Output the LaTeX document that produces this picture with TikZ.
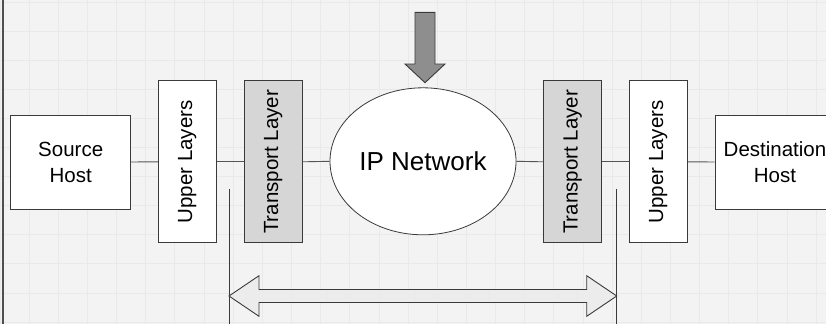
\documentclass[tikz,border=0pt]{standalone}
\usepackage{fontspec}
\setmainfont{Liberation Sans}
\usetikzlibrary{shapes.geometric,calc}
\definecolor{bgcol}{HTML}{F3F3F3}
\definecolor{gridcol}{HTML}{E9E9E9}
\definecolor{edgecol}{HTML}{3A3A3A}
\definecolor{linkcol}{HTML}{555555}
\definecolor{layercol}{HTML}{D6D6D6}
\definecolor{pushcol}{HTML}{8E8E8E}
\definecolor{spancol}{HTML}{ECECEC}
\tikzset{
  hostbox/.style={draw=edgecol, line width=0.9pt, fill=white, minimum width=120pt, minimum height=94pt, inner sep=0pt, align=center, font=\fontsize{20.5}{26}\selectfont},
  layerbox/.style={draw=edgecol, line width=0.9pt, fill=white, minimum width=58pt, minimum height=162pt, inner sep=0pt, font=\fontsize{20.5}{24}\selectfont},
  transbox/.style={layerbox, fill=layercol},
  netcloud/.style={ellipse, draw=edgecol, line width=0.8pt, fill=white, minimum width=186pt, minimum height=147pt, inner sep=0pt, font=\fontsize{26}{30}\selectfont},
  link/.style={draw=linkcol, line width=0.9pt},
  guide/.style={draw=edgecol, line width=0.9pt}
}
\begin{document}
\begin{tikzpicture}[x=1pt, y=-1pt]
\useasboundingbox (0,0) rectangle (826,324);
\clip (0,0) rectangle (826,324);
% canvas and grid
\fill[bgcol] (0,0) rectangle (826,324);
\foreach \gx in {0,...,28} {
  \draw[gridcol, line width=0.9pt] ({29.15*\gx},0) -- ({29.15*\gx},324);
}
\foreach \gy in {0,...,11} {
  \draw[gridcol, line width=0.9pt] (0,{2+29.1*\gy}) -- (826,{2+29.1*\gy});
}
\draw[edgecol!90, line width=2pt] (3.3,0) -- (3.3,324);

% end hosts and protocol layers
\node[hostbox] (src) at (70.7,162) {Source\\Host};
\node[layerbox] (up1) at (187.3,161.8) {\rotatebox{90}{Upper Layers}};
\node[transbox] (tr1) at (273.3,161.8) {\rotatebox{90}{Transport Layer}};
\node[netcloud] (ip) at (423,161.3) {IP Network};
\node[transbox] (tr2) at (572.7,161.8) {\rotatebox{90}{Transport Layer}};
\node[layerbox] (up2) at (658.3,161.8) {\rotatebox{90}{Upper Layers}};
\node[hostbox] (dst) at (775,162) {Destination\\Host};

% links along the path
\draw[link] (src.east) -- (up1.west);
\draw[link] (up1.east) -- (tr1.west);
\draw[link] (tr1.east) -- (ip.west);
\draw[link] (ip.east) -- (tr2.west);
\draw[link] (tr2.east) -- (up2.west);
\draw[link] (up2.east) -- (dst.west);

% guides marking the end-to-end span
\coordinate (gl) at (229,189.3);
\coordinate (gr) at (616.7,189.3);
\coordinate (gl2) at (229,324);
\coordinate (gr2) at (616.7,324);
\draw[guide] (gl) -- (gl2);
\draw[guide] (gr) -- (gr2);

% end-to-end double arrow
\coordinate (al) at (229,296);
\coordinate (ar) at (616.7,296);
\draw[edgecol, line width=0.9pt, fill=spancol, line join=miter]
  (al) -- ($(al)+(30,-20.3)$) -- ($(al)+(30,-6.5)$) -- ($(ar)+(-30,-6.5)$)
  -- ($(ar)+(-30,-20.3)$) -- (ar) -- ($(ar)+(-30,20.3)$) -- ($(ar)+(-30,6.5)$)
  -- ($(al)+(30,6.5)$) -- ($(al)+(30,20.3)$) -- cycle;

% arrow pointing into the network
\coordinate (tip) at (425,82.7);
\draw[edgecol, line width=0.9pt, fill=pushcol, line join=miter]
  (tip) -- ($(tip)+(-20,-18.7)$) -- ($(tip)+(-10,-18.7)$) -- ($(tip)+(-10,-70.4)$)
  -- ($(tip)+(10,-70.4)$) -- ($(tip)+(10,-18.7)$) -- ($(tip)+(20,-18.7)$) -- cycle;
\end{tikzpicture}
\end{document}
